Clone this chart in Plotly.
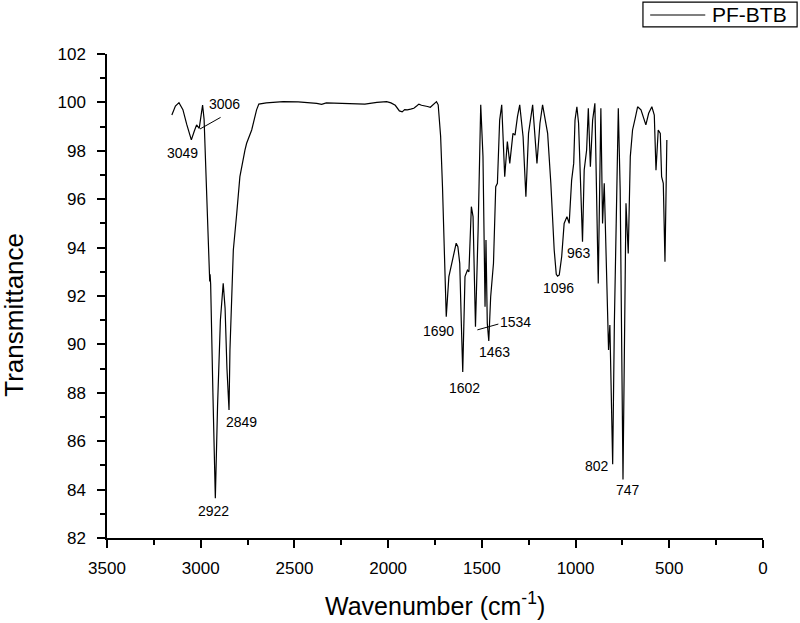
import plotly.graph_objects as go

# ---- data ----
wavenumber = [
    3154, 3135, 3116, 3095, 3075, 3050, 3035, 3022, 3008, 2998, 2990, 2982, 2972, 2962,
    2956, 2952, 2950, 2947, 2935, 2922, 2910, 2895, 2880, 2870, 2860, 2849, 2844, 2835,
    2826, 2808, 2791, 2764, 2755, 2728, 2702, 2690, 2650, 2560, 2480, 2381, 2355, 2330,
    2280, 2204, 2124, 2060, 2008, 1985, 1962, 1940, 1925, 1912, 1898, 1880, 1863, 1848,
    1836, 1822, 1810, 1790, 1775, 1760, 1742, 1733, 1720, 1710, 1700, 1690, 1676, 1662,
    1650, 1637, 1628, 1618, 1610, 1602, 1590, 1577, 1569, 1556, 1547, 1534, 1520, 1506,
    1494, 1483, 1478, 1471, 1463, 1453, 1438, 1426, 1417, 1405, 1394, 1378, 1364, 1351,
    1334, 1323, 1310, 1298, 1280, 1265, 1251, 1229, 1206, 1190, 1176, 1162, 1149, 1132,
    1114, 1103, 1096, 1087, 1074, 1061, 1046, 1034, 1021, 1010, 1003, 993, 984, 963,
    954, 941, 932, 921, 909, 897, 879, 865, 856, 847, 834, 824, 817, 802, 793, 772,
    762, 747, 731, 719, 708, 696, 682, 669, 651, 625, 610, 593, 580, 571, 559, 548,
    541, 532, 523, 513,
]
transmittance = [
    99.48, 99.85, 99.99, 99.70, 99.10, 98.45, 98.80, 99.07, 98.93, 99.60, 99.89, 99.30, 97.00, 94.50,
    93.10, 92.60, 92.90, 92.50, 88.00, 83.64, 87.50, 91.00, 92.52, 91.50, 89.00, 87.29, 89.77, 92.00,
    93.90, 95.40, 96.93, 98.03, 98.31, 98.86, 99.69, 99.93, 99.98, 100.03, 100.02, 99.96, 99.92, 99.98,
    99.97, 99.96, 99.93, 100.00, 100.03, 99.98, 99.88, 99.65, 99.61, 99.70, 99.69, 99.72, 99.76, 99.85,
    99.93, 99.88, 99.85, 99.83, 99.80, 99.90, 100.03, 99.90, 98.60, 96.50, 93.50, 91.14, 92.80, 93.28,
    93.63, 94.18, 94.04, 93.35, 91.00, 88.86, 92.80, 93.07, 93.00, 95.69, 95.28, 90.73, 94.73, 99.90,
    97.76, 91.56, 94.31, 90.87, 90.14, 91.97, 93.35, 96.52, 96.66, 99.27, 99.90, 96.93, 98.38, 97.48,
    98.72, 98.65, 99.41, 99.90, 98.58, 96.10, 98.72, 99.90, 97.48, 99.14, 99.90, 99.20, 98.72, 96.66,
    93.90, 92.90, 92.82, 92.87, 93.63, 95.00, 95.28, 95.00, 96.79, 97.48, 99.27, 99.82, 99.14, 94.24,
    97.20, 98.03, 99.76, 97.34, 99.27, 99.96, 92.52, 99.76, 95.00, 96.66, 92.25, 89.77, 90.80, 85.05, 90.87, 99.76,
    96.38, 84.42, 95.83, 93.76, 97.76, 98.86, 99.34, 99.82, 99.69, 99.07, 99.55, 99.82, 99.48, 97.20, 98.86, 98.72,
    96.93, 96.66, 93.42, 98.45,
]

series_name = "PF-BTB"

peak_labels = ["3049", "3006", "2922", "2849", "1690", "1602", "1534", "1463",
               "1096", "963", "802", "747"]
# label placement (wavenumber, transmittance) of each label's centre
label_x = [3099, 2871, 2933, 2785, 1733, 1595, 1318, 1435, 1092, 982, 887, 722]
label_y = [97.90, 99.93, 83.12, 86.81, 90.57, 88.19, 90.94, 89.70, 92.32, 93.79, 84.98, 83.98]

# leader lines for 3006 and 1534 labels
leader_x0 = [3004, 1524]
leader_y0 = [98.90, 90.60]
leader_x1 = [2894, 1412]
leader_y1 = [99.38, 90.84]

FONT = "Liberation Sans, Arial, sans-serif"

fig = go.Figure()
fig.add_trace(go.Scatter(
    x=wavenumber, y=transmittance, mode="lines", name=series_name,
    line=dict(color="black", width=1.2), showlegend=False,
))

ann = []
for t, x, y in zip(peak_labels, label_x, label_y):
    ann.append(dict(x=x, y=y, xref="x", yref="y", text=t, showarrow=False,
                    font=dict(family=FONT, size=14, color="black"),
                    xanchor="center", yanchor="middle"))

ann.append(dict(x=0.5, y=-0.136, xref="paper", yref="paper",
                text="Wavenumber (cm<sup>-1</sup>)", showarrow=False,
                font=dict(family=FONT, size=25, color="black"),
                xanchor="center", yanchor="middle"))
ann.append(dict(x=-0.142, y=0.461, xref="paper", yref="paper",
                text="Transmittance", showarrow=False, textangle=-90,
                font=dict(family=FONT, size=26, color="black"),
                xanchor="center", yanchor="middle"))
# legend text
ann.append(dict(x=0.919, y=1.0806, xref="paper", yref="paper",
                text=series_name, showarrow=False,
                font=dict(family=FONT, size=21, color="black"),
                xanchor="left", yanchor="middle"))

shapes = []
for x0, y0, x1, y1 in zip(leader_x0, leader_y0, leader_x1, leader_y1):
    shapes.append(dict(type="line", xref="x", yref="y", x0=x0, y0=y0, x1=x1, y1=y1,
                       line=dict(color="black", width=1)))
# legend box and sample line
shapes.append(dict(type="rect", xref="paper", yref="paper", x0=0.817, x1=1.052,
                   y0=1.056, y1=1.107, line=dict(color="black", width=1.2),
                   fillcolor="white"))
shapes.append(dict(type="line", xref="paper", yref="paper", x0=0.828, x1=0.912,
                   y0=1.0806, y1=1.0806, line=dict(color="black", width=1.2)))

tickfont = dict(family=FONT, size=17, color="black")

fig.update_layout(
    width=800, height=623,
    margin=dict(l=107, r=37, t=54, b=85, autoexpand=False),
    paper_bgcolor="white", plot_bgcolor="white",
    annotations=ann, shapes=shapes,
    showlegend=False,
    xaxis=dict(range=[3500, 0], dtick=500, tick0=0, showgrid=False, zeroline=False,
               showline=True, linecolor="black", linewidth=1.5,
               ticks="outside", ticklen=8, tickwidth=1.5, tickcolor="black",
               tickfont=tickfont, ticklabelstandoff=6,
               minor=dict(ticks="outside", ticklen=5, dtick=250, tickwidth=1.5, tickcolor="black")),
    yaxis=dict(range=[82, 102], dtick=2, tick0=82, showgrid=False, zeroline=False,
               showline=True, linecolor="black", linewidth=1.5,
               ticks="outside", ticklen=8, tickwidth=1.5, tickcolor="black",
               tickfont=tickfont, ticklabelstandoff=8,
               minor=dict(ticks="outside", ticklen=5, dtick=1, tickwidth=1.5, tickcolor="black")),
)

# remove the browser's default 8px page margin so the figure fills the window exactly
fig.write_html("out.html",
               config={"displayModeBar": False},
               post_script="document.body.style.margin='0px';document.body.style.overflow='hidden';")
